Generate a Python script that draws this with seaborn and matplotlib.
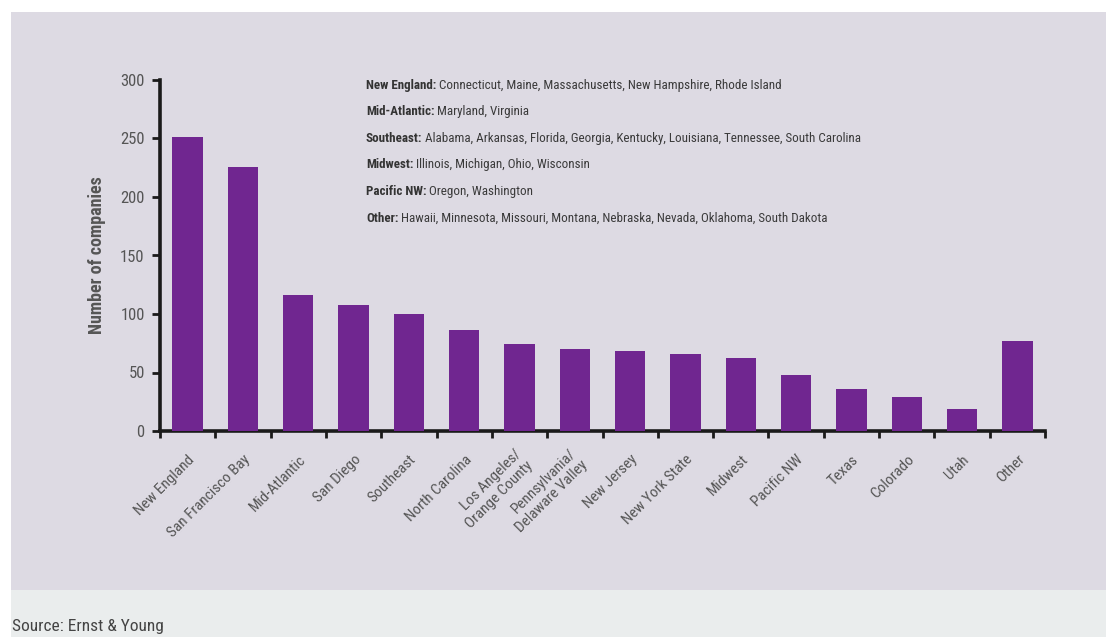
import numpy as np
import pandas as pd
import matplotlib
matplotlib.use("Agg")
import matplotlib.pyplot as plt
import matplotlib.transforms as mtransforms
from matplotlib.patches import Rectangle
from matplotlib.ticker import FixedLocator
import seaborn as sns

# Biotech companies by region
regions = ["New England", "San Francisco Bay", "Mid-Atlantic", "San Diego", "Southeast",
           "North Carolina", "Los Angeles/\nOrange County", "Pennsylvania/\nDelaware Valley",
           "New Jersey", "New York State", "Midwest", "Pacific NW", "Texas", "Colorado",
           "Utah", "Other"]
companies = [251, 226, 116, 108, 100, 86, 74, 70, 68, 66, 62, 48, 36, 29, 19, 77]

y_ticks = [0, 50, 100, 150, 200, 250, 300]

note_heads = ["New England:", "Mid-Atlantic:", "Southeast:", "Midwest:", "Pacific NW:", "Other:"]
note_states = [
    "Connecticut, Maine, Massachusetts, New Hampshire, Rhode Island",
    "Maryland, Virginia",
    "Alabama, Arkansas, Florida, Georgia, Kentucky, Louisiana, Tennessee, South Carolina",
    "Illinois, Michigan, Ohio, Wisconsin",
    "Oregon, Washington",
    "Hawaii, Minnesota, Missouri, Montana, Nebraska, Nevada, Oklahoma, South Dakota",
]

source_text = "Source: Ernst & Young"

sns.set_style("ticks")
NARROW = ["Roboto Condensed", "Roboto", "DejaVu Sans"]
plt.rcParams["font.family"] = NARROW

W, H = 1106, 637
fig = plt.figure(figsize=(W / 100, H / 100), dpi=100, facecolor="white")

def fx(px):
    return px / W

def fy(py):
    return 1 - py / H

# page panels
fig.add_artist(Rectangle((fx(11), fy(590)), 1 - fx(11), fy(12) - fy(590),
                         transform=fig.transFigure, facecolor="#dddae3",
                         edgecolor="none", zorder=0))
fig.add_artist(Rectangle((fx(11), 0), 1 - fx(11), fy(590),
                         transform=fig.transFigure, facecolor="#eaeded",
                         edgecolor="none", zorder=0))

ax = fig.add_axes([fx(160), fy(431), fx(1045) - fx(160), fy(80) - fy(431)])
ax.set_facecolor("none")

df = pd.DataFrame({"region": regions, "companies": companies})
sns.barplot(data=df, x="region", y="companies", color="#702690", saturation=1,
            width=0.55, linewidth=0, ax=ax, zorder=3)

ax.set_xlim(-0.5, len(regions) - 0.5)
ax.set_ylim(0, 300)
ax.set_yticks(y_ticks)
ax.set_xlabel("")
ax.set_ylabel("Number of companies", fontsize=13, fontweight="bold", color="#555555",
              labelpad=10)

for s in ["top", "right"]:
    ax.spines[s].set_visible(False)
for s in ["left", "bottom"]:
    ax.spines[s].set_linewidth(2.6)
    ax.spines[s].set_color("#1a1a1a")

# ticks between the bars
ax.xaxis.set_minor_locator(FixedLocator(np.arange(-0.5, len(regions), 1.0)))
ax.tick_params(axis="x", which="major", length=0, pad=19, labelsize=11,
               labelcolor="#555555")
ax.tick_params(axis="x", which="minor", length=5, width=2, color="#1a1a1a", direction="out")
ax.tick_params(axis="y", which="major", length=6, width=2, color="#1a1a1a",
               labelsize=12, labelcolor="#555555", pad=5)

shift = mtransforms.ScaledTranslation(5 / 100, 0, fig.dpi_scale_trans)
for lab in ax.get_xticklabels():
    lab.set_rotation(45)
    lab.set_rotation_mode("anchor")
    lab.set_ha("right")
    lab.set_va("center")
    lab.set_multialignment("right")
    lab.set_transform(lab.get_transform() + shift)

# region definitions
x0 = fx(366)
for i, (head, states) in enumerate(zip(note_heads, note_states)):
    y = fy(85 + i * 26.6)
    t = fig.text(x0, y, head, fontsize=9.4, fontweight="bold", color="#333333",
                 ha="left", va="center")
    ax.annotate(" " + states, xy=(1, 0), xycoords=t, ha="left", va="bottom",
                fontsize=9.4, color="#3a3a3a", annotation_clip=False)

fig.text(fx(12), fy(626), source_text, fontsize=12.5, color="#444444",
         ha="left", va="center")

fig.savefig("out.png", dpi=100, facecolor=fig.get_facecolor())
